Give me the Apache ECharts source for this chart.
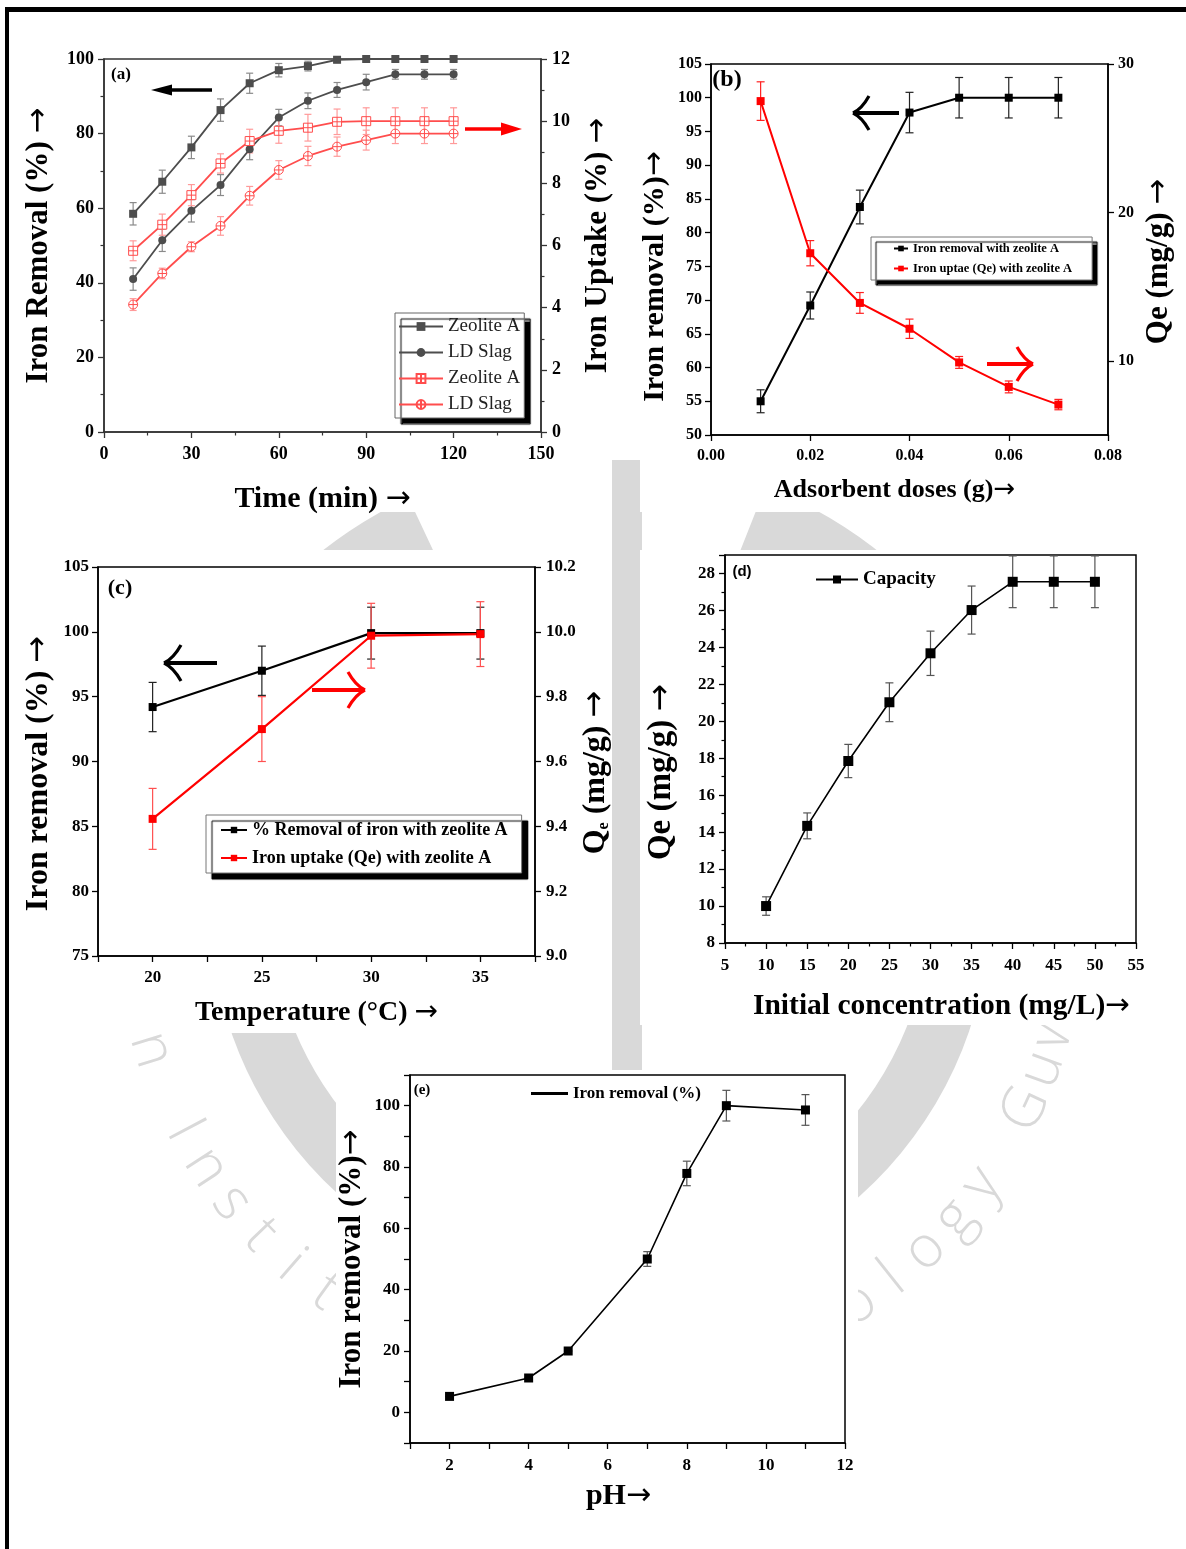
<!DOCTYPE html>
<html><head><meta charset="utf-8">
<script src="https://cdn.jsdelivr.net/npm/echarts@6/dist/echarts.min.js"></script>
<style>html,body{margin:0;padding:0;background:#fff}#c{width:1186px;height:1549px}</style>
</head><body><div id="c"></div><script>
// ---------- DATA ----------
// (a) contact time
const aTime = [10,20,30,40,50,60,70,80,90,100,110,120];
const aZeoRemoval = [58.5,67.1,76.3,86.3,93.5,97,98.1,99.8,100,100,100,100];
const aZeoRemovalErr = [3,3.1,3,3,2.7,1.8,1.3,0.8,0.6,0.6,0.6,0.6];
const aSlagRemoval = [41,51.4,59.3,66.2,75.8,84.3,88.8,91.7,93.8,95.9,95.9,95.9];
const aSlagRemovalErr = [3,3,3,2.8,2.8,2.2,2.1,2,2.1,1.3,1.3,1.3];
const aZeoUptake = [5.83,6.67,7.62,8.64,9.36,9.69,9.79,9.98,10,10,10,10];
const aZeoUptakeErr = [0.32,0.34,0.34,0.31,0.38,0.4,0.43,0.41,0.43,0.43,0.43,0.43];
const aSlagUptake = [4.1,5.1,5.96,6.63,7.6,8.43,8.88,9.18,9.39,9.6,9.6,9.6];
const aSlagUptakeErr = [0.19,0.17,0.16,0.3,0.3,0.3,0.31,0.31,0.32,0.32,0.32,0.32];
// (b) adsorbent dose
const bDose = [0.01,0.02,0.03,0.04,0.05,0.06,0.07];
const bRemoval = [55,69.2,83.8,97.8,100,100,100];
const bRemovalErr = [1.7,2,2.5,3,3,3,3];
const bQe = [27.5,17.25,13.9,12.16,9.89,8.24,7.05];
const bQeErr = [1.3,0.85,0.7,0.65,0.4,0.4,0.35];
// (c) temperature
const cTemp = [20,25,30,35];
const cRemoval = [94.2,97,99.9,99.9];
const cRemovalErr = [1.9,1.9,2,2];
const cQe = [9.423,9.70,9.988,9.993];
const cQeErr = [0.094,0.1,0.1,0.1];
// (d) initial concentration
const dConc = [10,15,20,25,30,35,40,45,50];
const dQe = [10,14.34,17.85,21.03,23.68,26.02,27.55,27.55,27.55];
const dQeErr = [0.5,0.7,0.9,1.05,1.2,1.3,1.4,1.4,1.4];
// (e) pH
const ePH = [2,4,5,7,8,9,11];
const eRemoval = [5.2,11.2,20,50,77.9,100,98.6];
const eRemovalErr = [0,0,0,2.4,4,5,5];

// ---------- HELPERS ----------
const SERIF = '"Liberation Serif","Times New Roman",serif';
const SANS = '"Liberation Sans",Arial,sans-serif';
const ARROWFONT = '"DejaVu Sans",sans-serif';
const zip = (xs, ys) => xs.map((x, i) => [x, ys[i]]);

function errSeries(xs, ys, errs, xi, yi, color, cap, lw) {
  return {
    type: 'custom', xAxisIndex: xi, yAxisIndex: yi, silent: true, z: 1, clip: true,
    data: xs.map((x, i) => [x, ys[i] - errs[i], ys[i] + errs[i]]),
    encode: { x: 0, y: [1, 2] },
    renderItem: (params, api) => {
      const lo = api.coord([api.value(0), api.value(1)]);
      const hi = api.coord([api.value(0), api.value(2)]);
      const s = { stroke: color, lineWidth: lw };
      return { type: 'group', children: [
        { type: 'line', shape: { x1: lo[0], y1: lo[1], x2: hi[0], y2: hi[1] }, style: s },
        { type: 'line', shape: { x1: lo[0] - cap, y1: lo[1], x2: lo[0] + cap, y2: lo[1] }, style: s },
        { type: 'line', shape: { x1: hi[0] - cap, y1: hi[1], x2: hi[0] + cap, y2: hi[1] }, style: s }
      ]};
    }
  };
}

// axis title as rich text: main text + long arrow glyph
function richName(size) {
  return {
    t: { fontFamily: SERIF, fontWeight: 'bold', fontSize: size, color: '#000' },
    a: { fontFamily: ARROWFONT, fontWeight: 'normal', fontSize: size, color: '#000' },
    s: { fontFamily: SERIF, fontWeight: 'bold', fontSize: size * 0.5, color: '#000', verticalAlign: 'bottom' }
  };
}

function axis(o) {
  const lc = o.lineColor || '#000';
  const size = o.nameSize || 28;
  const ax = {
    type: 'value', gridIndex: o.grid, min: o.min, max: o.max, interval: o.interval,
    position: o.position,
    axisLine: { show: true, onZero: false, lineStyle: { color: lc, width: 1.5 } },
    axisTick: { show: true, inside: false, length: o.tickLen || 6, lineStyle: { color: lc, width: 1.3 } },
    minorTick: { show: !!o.minor, splitNumber: o.minor || 2, length: 3.5, lineStyle: { color: lc, width: 1.2 } },
    splitLine: { show: false }, minorSplitLine: { show: false },
    axisLabel: { show: true, color: '#000', fontFamily: o.labelFont || SERIF, fontWeight: 'bold',
      fontSize: o.labelSize || 17, margin: o.labelMargin || 10, formatter: o.formatter, showMinLabel: true, showMaxLabel: true },
    name: o.name, nameLocation: 'middle', nameGap: o.nameGap, nameRotate: o.nameRotate,
    nameTextStyle: { color: '#000', fontFamily: SERIF, fontWeight: 'bold', fontSize: size, rich: richName(size), padding: o.namePad || 0 }
  };
  if (o.labelValues) ax.axisLabel.customValues = o.labelValues;
  if (o.tickValues) ax.axisTick.customValues = o.tickValues;
  return ax;
}

const REDSQ = 'path://M0,0L10,0L10,10L0,10Z M5,0L5,10 M0,5L10,5';
const REDCI = 'path://M10,5A5,5,0,1,1,0,5A5,5,0,1,1,10,5Z M5,0L5,10 M0,5L10,5';
const strip = n => n.replace(/ \[.*\]$/, '');

// ---------- GRAPHICS (watermark, panel backgrounds, arrows, labels) ----------
const WM = '#d9d9d9';
const wmText = 'Indian Institute of Technology Guwahati';
const wmChars = [];
(function () {
  const cx = 600, cy = 911, R = 470, step = 5.3, start = 189.3;
  for (let i = 0; i < wmText.length; i++) {
    const th = start - i * step;
    const r = th * Math.PI / 180;
    wmChars.push({ type: 'text', z: -100, x: cx + R * Math.cos(r), y: cy + R * Math.sin(r),
      rotation: -(th - 90) * Math.PI / 180,
      style: { text: wmText[i], font: '300 58px "Open Sans",sans-serif', fill: WM, align: 'center', verticalAlign: 'middle' } });
  }
})();

function filledArrow(tail, tip, y, color, hl, hh, w) {
  const d = tip > tail ? 1 : -1;
  return [
    { type: 'line', z: 50, shape: { x1: tail, y1: y, x2: tip - d * hl * 0.8, y2: y }, style: { stroke: color, lineWidth: w } },
    { type: 'polygon', z: 50, shape: { points: [[tip, y], [tip - d * hl, y - hh / 2], [tip - d * hl, y + hh / 2]] }, style: { fill: color } }
  ];
}
function openArrow(tail, tip, y, color, hl, hh, w) {
  const d = tip > tail ? 1 : -1;
  const bx = tip - d * hl;
  return [
    { type: 'line', z: 50, shape: { x1: tail, y1: y, x2: tip - d * 2, y2: y }, style: { stroke: color, lineWidth: w } },
    { type: 'bezierCurve', z: 50, shape: { x1: tip, y1: y, x2: bx, y2: y - hh / 2, cpx1: tip - d * hl * 0.55, cpy1: y - hh * 0.12 }, style: { stroke: color, lineWidth: w * 0.8, fill: null } },
    { type: 'bezierCurve', z: 50, shape: { x1: tip, y1: y, x2: bx, y2: y + hh / 2, cpx1: tip - d * hl * 0.55, cpy1: y + hh * 0.12 }, style: { stroke: color, lineWidth: w * 0.8, fill: null } }
  ];
}
function label(t, x, y, font) {
  return { type: 'text', z: 50, x: x, y: y, style: { text: t, font: font, fill: '#000', align: 'center', verticalAlign: 'middle' } };
}
const whiteRect = (x, y, w, h) => ({ type: 'rect', z: -90, shape: { x: x, y: y, width: w, height: h }, style: { fill: '#fff' } });

const graphics = [
  // watermark (approximate logo)
  { type: 'rect', z: -100, shape: { x: 612, y: 460, width: 30, height: 630 }, style: { fill: WM } },
  { type: 'arc', z: -100, shape: { cx: 600, cy: 905, r: 360, startAngle: -0.2, endAngle: Math.PI + 0.2 }, style: { fill: null, stroke: WM, lineWidth: 60 } },
  { type: 'arc', z: -100, shape: { cx: 600, cy: 905, r: 410, startAngle: Math.PI * 1.17, endAngle: Math.PI * 1.36 }, style: { fill: null, stroke: WM, lineWidth: 80 } },
  { type: 'arc', z: -100, shape: { cx: 600, cy: 905, r: 410, startAngle: Math.PI * 1.62, endAngle: Math.PI * 1.82 }, style: { fill: null, stroke: WM, lineWidth: 80 } },
  ...wmChars,
  // white panel backgrounds
  whiteRect(10, 12, 601, 500),
  whiteRect(640, 12, 546, 500),
  whiteRect(10, 550, 602, 483),
  whiteRect(640, 550, 546, 475),
  whiteRect(336, 1070, 522, 450),
  // figure frame
  { type: 'rect', z: 60, shape: { x: 5, y: 7, width: 1181, height: 5 }, style: { fill: '#000' } },
  { type: 'rect', z: 60, shape: { x: 5, y: 7, width: 4, height: 1542 }, style: { fill: '#000' } },
  // arrows
  ...filledArrow(212, 151, 90, '#000', 21, 11, 3.5),
  ...filledArrow(465, 522, 129, '#ff0000', 21, 13, 3.5),
  ...openArrow(899, 853, 113, '#000', 16, 34, 4),
  ...openArrow(987, 1033, 364, '#ff0000', 16, 34, 4),
  ...openArrow(217, 164, 663, '#000', 17, 36, 4),
  ...openArrow(312, 365, 690, '#ff0000', 17, 36, 4),
  // panel labels
  label('(a)', 121, 75, 'bold 17px ' + SERIF),
  label('(b)', 727, 80, 'bold 24px ' + SERIF),
  label('(c)', 120, 588, 'bold 22px ' + SERIF),
  label('(d)', 742, 572, 'bold 15px ' + SANS),
  label('(e)', 422, 1090, 'bold 15px ' + SERIF)
];

// ---------- OPTION ----------
const gridBase = { show: true, backgroundColor: 'transparent', borderWidth: 1.5, borderColor: '#000', outerBoundsMode: 'none', containLabel: false };
const GRAY = '#4d4d4d', GRAYERR = '#8a8a8a', LRED = '#ff4d4d', LREDERR = '#ff9a9a';

const option = {
  animation: false,
  backgroundColor: '#fff',
  graphic: { elements: graphics },
  grid: [
    Object.assign({}, gridBase, { left: 104, top: 59, width: 437, height: 373, borderColor: '#333' }),
    Object.assign({}, gridBase, { left: 711, top: 64, width: 397, height: 371 }),
    Object.assign({}, gridBase, { left: 98, top: 567, width: 437, height: 389 }),
    Object.assign({}, gridBase, { left: 725, top: 555, width: 411, height: 388 }),
    Object.assign({}, gridBase, { left: 410, top: 1075, width: 435, height: 368 })
  ],
  xAxis: [
    axis({ grid: 0, min: 0, max: 150, interval: 30, minor: 2, lineColor: '#333', labelSize: 18, labelMargin: 13, name: '{t|Time (min) }{a|→}', nameGap: 52, nameSize: 30 }),
    axis({ grid: 1, min: 0, max: 0.08, interval: 0.02, labelSize: 16, labelMargin: 13, formatter: v => v.toFixed(2), name: '{t|Adsorbent doses (g)}{a|→}', nameGap: 42, nameSize: 26, namePad: [0, 30, 0, 0] }),
    axis({ grid: 2, min: 17.5, max: 37.5, interval: 2.5, labelValues: [20, 25, 30, 35], labelMargin: 13, name: '{t|Temperature (°C) }{a|→}', nameGap: 43, nameSize: 28 }),
    axis({ grid: 3, min: 5, max: 55, interval: 5, minor: 2, labelMargin: 14, name: '{t|Initial concentration (mg/L)}{a|→}', nameGap: 48, nameSize: 29.5, namePad: [0, 0, 0, 22] }),
    axis({ grid: 4, min: 1, max: 12, interval: 1, labelValues: [2, 4, 6, 8, 10, 12], labelSize: 17, labelMargin: 14, name: '{t|pH}{a|→}', nameGap: 38, nameSize: 30, namePad: [0, 18, 0, 0] })
  ],
  yAxis: [
    axis({ grid: 0, min: 0, max: 100, interval: 20, minor: 2, lineColor: '#333', labelSize: 18, labelMargin: 10, name: '{t|Iron Removal (%) }{a|→}', nameRotate: 90, nameGap: 50, nameSize: 31 }),
    axis({ grid: 0, position: 'right', min: 0, max: 12, interval: 2, minor: 2, lineColor: '#333', labelSize: 18, labelMargin: 11, name: '{t|Iron Uptake (%) }{a|→}', nameRotate: 90, nameGap: 41, nameSize: 31 }),
    axis({ grid: 1, min: 50, max: 105, interval: 5, labelSize: 16, labelMargin: 9, name: '{t|Iron removal (%)}{a|→}', nameRotate: 90, nameGap: 41, nameSize: 30, namePad: [0, 54, 0, 0] }),
    axis({ grid: 1, position: 'right', min: 5, max: 30, interval: 5, labelValues: [10, 20, 30], tickValues: [10, 20, 30], labelSize: 16, labelMargin: 10, name: '{t|Qe (mg/g) }{a|→}', nameRotate: 90, nameGap: 35, nameSize: 31, namePad: [0, 24, 0, 0] }),
    axis({ grid: 2, min: 75, max: 105, interval: 5, labelMargin: 9, name: '{t|Iron removal (%) }{a|→}', nameRotate: 90, nameGap: 43, nameSize: 32, namePad: [0, 24, 0, 0] }),
    axis({ grid: 2, position: 'right', min: 9.0, max: 10.2, interval: 0.2, formatter: v => v.toFixed(1), labelMargin: 11,
      name: '{t|Q}{s|e}{t| (mg/g) }{a|→}', nameRotate: 90, nameGap: 45, nameSize: 32, namePad: [0, 22, 0, 0] }),
    axis({ grid: 3, min: 8, max: 29, interval: 2, minor: 2, labelValues: [8, 10, 12, 14, 16, 18, 20, 22, 24, 26, 28], labelMargin: 10, name: '{t|Qe (mg/g) }{a|→}', nameRotate: 90, nameGap: 47, nameSize: 33, namePad: [0, 46, 0, 0] }),
    axis({ grid: 4, min: -10, max: 110, interval: 10, labelValues: [0, 20, 40, 60, 80, 100], labelSize: 17, labelMargin: 10, name: '{t|Iron removal (%)}{a|→}', nameRotate: 90, nameGap: 43, nameSize: 31 })
  ],
  legend: [
    { selectedMode: false, orient: 'vertical', left: 395, top: 313, itemWidth: 44, itemHeight: 11, itemGap: 5,
      padding: [3, 4, 3, 3], backgroundColor: '#fff', borderColor: '#666', borderWidth: 1,
      shadowColor: '#000', shadowBlur: 1, shadowOffsetX: 6, shadowOffsetY: 6,
      textStyle: { fontFamily: SERIF, fontSize: 19, color: '#222', lineHeight: 21 }, formatter: strip,
      data: ['Zeolite A [removal]', 'LD Slag [removal]', 'Zeolite A [uptake]', 'LD Slag [uptake]'] },
    { selectedMode: false, orient: 'vertical', left: 871, top: 237, itemWidth: 14, itemHeight: 7, itemGap: 5,
      padding: [4, 20, 4, 22], backgroundColor: '#fff', borderColor: '#777', borderWidth: 1,
      shadowColor: '#000', shadowBlur: 1, shadowOffsetX: 5, shadowOffsetY: 5,
      textStyle: { fontFamily: SERIF, fontWeight: 'bold', fontSize: 12.5, color: '#000', lineHeight: 15 },
      data: ['Iron removal with zeolite A', 'Iron uptae (Qe) with zeolite A'] },
    { selectedMode: false, orient: 'vertical', left: 206, top: 815, itemWidth: 26, itemHeight: 8, itemGap: 8,
      padding: [5, 14, 5, 14], backgroundColor: '#fff', borderColor: '#777', borderWidth: 1,
      shadowColor: '#000', shadowBlur: 1, shadowOffsetX: 6, shadowOffsetY: 6,
      textStyle: { fontFamily: SERIF, fontWeight: 'bold', fontSize: 18, color: '#000', lineHeight: 20 },
      data: ['% Removal of iron with zeolite A', 'Iron uptake (Qe) with zeolite A'] },
    { selectedMode: false, left: 815, top: 570, itemWidth: 42, itemHeight: 10, padding: 0,
      textStyle: { fontFamily: SERIF, fontWeight: 'bold', fontSize: 19, color: '#000' },
      data: ['Capacity'] },
    { selectedMode: false, left: 531, top: 1085, itemWidth: 37, itemHeight: 3, padding: 0,
      textStyle: { fontFamily: SERIF, fontWeight: 'bold', fontSize: 17, color: '#000' },
      data: [{ name: 'Iron removal (%)', icon: 'rect' }] }
  ],
  series: [
    // (a)
    errSeries(aTime, aZeoRemoval, aZeoRemovalErr, 0, 0, GRAYERR, 3.5, 1.2),
    errSeries(aTime, aSlagRemoval, aSlagRemovalErr, 0, 0, GRAYERR, 3.5, 1.2),
    errSeries(aTime, aZeoUptake, aZeoUptakeErr, 0, 1, LREDERR, 3.5, 1.2),
    errSeries(aTime, aSlagUptake, aSlagUptakeErr, 0, 1, LREDERR, 3.5, 1.2),
    { type: 'line', name: 'Zeolite A [removal]', xAxisIndex: 0, yAxisIndex: 0, data: zip(aTime, aZeoRemoval),
      symbol: 'rect', symbolSize: 8, lineStyle: { color: GRAY, width: 1.8 }, itemStyle: { color: GRAY } },
    { type: 'line', name: 'LD Slag [removal]', xAxisIndex: 0, yAxisIndex: 0, data: zip(aTime, aSlagRemoval),
      symbol: 'circle', symbolSize: 8, lineStyle: { color: GRAY, width: 1.8 }, itemStyle: { color: GRAY } },
    { type: 'line', name: 'Zeolite A [uptake]', xAxisIndex: 0, yAxisIndex: 1, data: zip(aTime, aZeoUptake),
      symbol: REDSQ, symbolSize: 9, lineStyle: { color: LRED, width: 1.8 }, itemStyle: { color: '#fff', borderColor: LRED, borderWidth: 1 } },
    { type: 'line', name: 'LD Slag [uptake]', xAxisIndex: 0, yAxisIndex: 1, data: zip(aTime, aSlagUptake),
      symbol: REDCI, symbolSize: 9, lineStyle: { color: LRED, width: 1.8 }, itemStyle: { color: '#fff', borderColor: LRED, borderWidth: 1 } },
    // (b)
    errSeries(bDose, bRemoval, bRemovalErr, 1, 2, '#222', 4, 1.2),
    errSeries(bDose, bQe, bQeErr, 1, 3, '#ff2020', 4, 1.2),
    { type: 'line', name: 'Iron removal with zeolite A', xAxisIndex: 1, yAxisIndex: 2, data: zip(bDose, bRemoval),
      symbol: 'rect', symbolSize: 8, lineStyle: { color: '#000', width: 2 }, itemStyle: { color: '#000' } },
    { type: 'line', name: 'Iron uptae (Qe) with zeolite A', xAxisIndex: 1, yAxisIndex: 3, data: zip(bDose, bQe),
      symbol: 'rect', symbolSize: 8, lineStyle: { color: '#ff0000', width: 2 }, itemStyle: { color: '#ff0000' } },
    // (c)
    errSeries(cTemp, cRemoval, cRemovalErr, 2, 4, '#222', 4, 1.2),
    errSeries(cTemp, cQe, cQeErr, 2, 5, '#ff5050', 4, 1.2),
    { type: 'line', name: '% Removal of iron with zeolite A', xAxisIndex: 2, yAxisIndex: 4, data: zip(cTemp, cRemoval),
      symbol: 'rect', symbolSize: 8, lineStyle: { color: '#000', width: 2.2 }, itemStyle: { color: '#000' } },
    { type: 'line', name: 'Iron uptake (Qe) with zeolite A', xAxisIndex: 2, yAxisIndex: 5, data: zip(cTemp, cQe),
      symbol: 'rect', symbolSize: 8, lineStyle: { color: '#ff0000', width: 2.2 }, itemStyle: { color: '#ff0000' } },
    // (d)
    errSeries(dConc, dQe, dQeErr, 3, 6, '#555', 4, 1.2),
    { type: 'line', name: 'Capacity', xAxisIndex: 3, yAxisIndex: 6, data: zip(dConc, dQe),
      symbol: 'rect', symbolSize: 10, lineStyle: { color: '#000', width: 1.6 }, itemStyle: { color: '#000' } },
    // (e)
    errSeries(ePH, eRemoval, eRemovalErr, 4, 7, '#555', 4, 1.2),
    { type: 'line', name: 'Iron removal (%)', xAxisIndex: 4, yAxisIndex: 7, data: zip(ePH, eRemoval),
      symbol: 'rect', symbolSize: 9, lineStyle: { color: '#000', width: 1.6 }, itemStyle: { color: '#000' } }
  ]
};

const chart = echarts.init(document.getElementById('c'), null, { renderer: 'canvas' });
chart.setOption(option);
</script></body></html>
